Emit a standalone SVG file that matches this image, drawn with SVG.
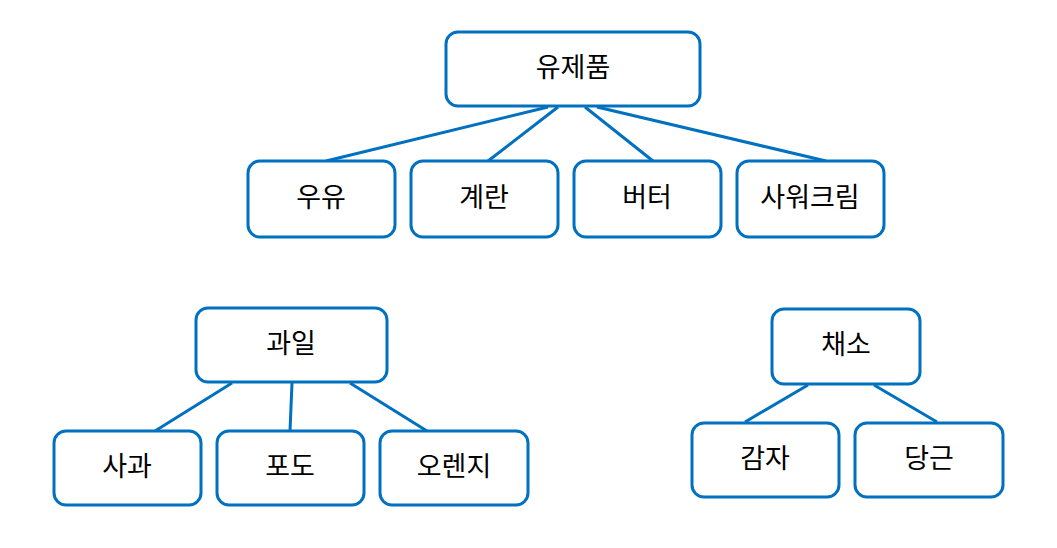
<svg xmlns="http://www.w3.org/2000/svg" width="1057" height="548" viewBox="0 0 1057 548">
<style>
.box{fill:#fff;stroke:#0070C0;stroke-width:3}
.lbl{font-family:"Noto Sans CJK KR","Noto Sans",sans-serif;font-size:27px;fill:#000;text-anchor:middle;dominant-baseline:central}
.edge{stroke:#0070C0;stroke-width:3;fill:none}
</style>
<rect width="1057" height="548" fill="#fff"/>
<g id="connectors">
<line class="edge" x1="548" y1="107" x2="326" y2="161"/>
<line class="edge" x1="558" y1="107" x2="488" y2="161"/>
<line class="edge" x1="585" y1="107" x2="653" y2="161"/>
<line class="edge" x1="597" y1="107" x2="826" y2="161"/>
<line class="edge" x1="232" y1="383" x2="155" y2="431"/>
<line class="edge" x1="292" y1="383" x2="290" y2="431"/>
<line class="edge" x1="350" y1="383" x2="427" y2="431"/>
<line class="edge" x1="808" y1="385" x2="745" y2="422"/>
<line class="edge" x1="874" y1="385" x2="937" y2="422"/>
</g>
<g id="n-dairy"><rect class="box" x="446" y="32" width="254" height="74" rx="12"/><text class="lbl" x="573" y="65">유제품</text></g>
<g id="n-milk"><rect class="box" x="248" y="161" width="147" height="76" rx="12"/><text class="lbl" x="321" y="195">우유</text></g>
<g id="n-egg"><rect class="box" x="411" y="161" width="147" height="76" rx="12"/><text class="lbl" x="484" y="195">계란</text></g>
<g id="n-butter"><rect class="box" x="574" y="161" width="147" height="76" rx="12"/><text class="lbl" x="647" y="195">버터</text></g>
<g id="n-sourcream"><rect class="box" x="737" y="161" width="147" height="76" rx="12"/><text class="lbl" x="810" y="195">사워크림</text></g>
<g id="n-fruit"><rect class="box" x="196" y="308" width="191" height="74" rx="12"/><text class="lbl" x="291" y="341">과일</text></g>
<g id="n-apple"><rect class="box" x="54" y="431" width="147" height="74" rx="12"/><text class="lbl" x="127" y="464">사과</text></g>
<g id="n-grape"><rect class="box" x="217" y="431" width="147" height="74" rx="12"/><text class="lbl" x="290" y="464">포도</text></g>
<g id="n-orange"><rect class="box" x="380" y="431" width="148" height="74" rx="12"/><text class="lbl" x="454" y="464">오렌지</text></g>
<g id="n-veg"><rect class="box" x="772" y="309" width="148" height="75" rx="12"/><text class="lbl" x="846" y="342">채소</text></g>
<g id="n-potato"><rect class="box" x="692" y="423" width="147" height="74" rx="12"/><text class="lbl" x="765" y="456">감자</text></g>
<g id="n-carrot"><rect class="box" x="855" y="423" width="148" height="74" rx="12"/><text class="lbl" x="929" y="456">당근</text></g>
</svg>
